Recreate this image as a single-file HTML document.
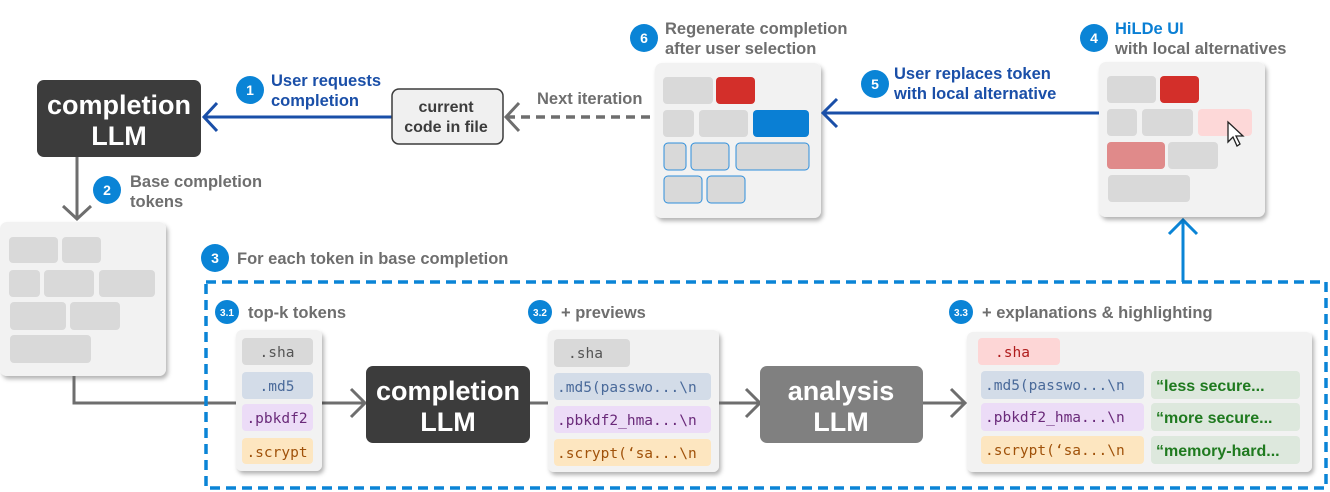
<!DOCTYPE html>
<html><head><meta charset="utf-8"><style>
html,body{margin:0;padding:0;background:#fff;}
svg{display:block;}
text{font-family:"Liberation Sans",Arial,sans-serif;font-weight:bold;}
.m{font-family:"DejaVu Sans Mono","Liberation Mono",monospace;font-weight:normal;font-size:14.5px;}
.g{fill:#6e6e6e;font-size:16.5px;}
.b{fill:#1a4fa8;font-size:16.5px;}
.bw{fill:#fff;font-size:14px;text-anchor:middle;}
.bs{fill:#fff;font-size:10px;text-anchor:middle;}
</style></head><body>
<svg width="1330" height="492" viewBox="0 0 1330 492" xmlns="http://www.w3.org/2000/svg">
<defs>
<filter id="sh" x="-10%" y="-10%" width="125%" height="125%"><feDropShadow dx="2" dy="3" stdDeviation="2" flood-color="#000" flood-opacity="0.3"/></filter>
</defs>

<rect x="37" y="80" width="164" height="77" rx="7" fill="#3c3c3c"/>
<text x="119" y="114" fill="#fff" font-size="27" text-anchor="middle">completion</text>
<text x="119" y="145" fill="#fff" font-size="27" text-anchor="middle">LLM</text>

<line x1="204" y1="117" x2="392" y2="117" stroke="#1a4fa8" stroke-width="3"/>
<polyline points="217,103 204,117 217,131" fill="none" stroke="#1a4fa8" stroke-width="3"/>
<circle cx="250" cy="90" r="14" fill="#0a84d6"/><text x="250" y="95" class="bw">1</text>
<text x="271" y="86" class="b">User requests</text>
<text x="271" y="106" class="b">completion</text>

<rect x="392" y="89" width="111" height="55" rx="7" fill="#f0f0f0" stroke="#3c3c3c" stroke-width="1.5"/>
<text x="446" y="112" fill="#3c3c3c" font-size="16" text-anchor="middle">current</text>
<text x="446" y="132" fill="#3c3c3c" font-size="16" text-anchor="middle">code in file</text>

<line x1="506" y1="117" x2="654" y2="117" stroke="#6e6e6e" stroke-width="3.5" stroke-dasharray="9,6"/>
<polyline points="519,103 506,117 519,131" fill="none" stroke="#6e6e6e" stroke-width="3"/>
<text x="537" y="104" class="g">Next iteration</text>

<line x1="77" y1="157" x2="77" y2="219" stroke="#6e6e6e" stroke-width="3"/>
<polyline points="63,206 77,219 91,206" fill="none" stroke="#6e6e6e" stroke-width="3"/>
<circle cx="107" cy="190" r="14" fill="#0a84d6"/><text x="107" y="195" class="bw">2</text>
<text x="130" y="187" class="g">Base completion</text>
<text x="130" y="207" class="g">tokens</text>

<rect x="0" y="222" width="166" height="154" rx="7" fill="#f2f2f2" filter="url(#sh)"/>
<g fill="#d9d9d9">
<rect x="9" y="237" width="49" height="26" rx="4"/><rect x="62" y="237" width="39" height="26" rx="4"/>
<rect x="9" y="270" width="31" height="27" rx="4"/><rect x="44" y="270" width="50" height="27" rx="4"/><rect x="99" y="270" width="56" height="27" rx="4"/>
<rect x="10" y="302" width="56" height="28" rx="4"/><rect x="70" y="302" width="50" height="28" rx="4"/>
<rect x="10" y="335" width="81" height="28" rx="4"/>
</g>

<polyline points="74,376 74,403 364,403" fill="none" stroke="#6e6e6e" stroke-width="3"/>
<polyline points="351,389 365,403 351,417" fill="none" stroke="#6e6e6e" stroke-width="3"/>

<circle cx="215" cy="258" r="14" fill="#0a84d6"/><text x="215" y="263" class="bw">3</text>
<text x="237" y="264" class="g">For each token in base completion</text>

<rect x="206" y="282" width="1120" height="206" fill="none" stroke="#0a84d6" stroke-width="3.5" stroke-dasharray="10,6"/>

<circle cx="227" cy="312" r="12" fill="#0a84d6"/><text x="227" y="316" class="bs">3.1</text>
<text x="248" y="318" class="g">top-k tokens</text>
<rect x="236" y="330" width="86" height="141" rx="6" fill="#f2f2f2" filter="url(#sh)"/>
<rect x="242" y="338" width="71" height="27" rx="4" fill="#d9d9d9"/><text x="277" y="357" class="m" fill="#555" text-anchor="middle">.sha</text>
<rect x="242" y="372" width="71" height="27" rx="4" fill="#d3dce8"/><text x="277" y="391" class="m" fill="#4a6a9a" text-anchor="middle">.md5</text>
<rect x="242" y="404" width="71" height="27" rx="4" fill="#ecdcf7"/><text x="277" y="423" class="m" fill="#6a2a7a" text-anchor="middle">.pbkdf2</text>
<rect x="242" y="438" width="71" height="26" rx="4" fill="#fde6c0"/><text x="277" y="457" class="m" fill="#a0520a" text-anchor="middle">.scrypt</text>

<rect x="366" y="366" width="164" height="77" rx="7" fill="#3c3c3c"/>
<text x="448" y="400" fill="#fff" font-size="27" text-anchor="middle">completion</text>
<text x="448" y="431" fill="#fff" font-size="27" text-anchor="middle">LLM</text>

<line x1="530" y1="403" x2="548" y2="403" stroke="#6e6e6e" stroke-width="3"/>

<circle cx="540" cy="312" r="12" fill="#0a84d6"/><text x="540" y="316" class="bs">3.2</text>
<text x="561" y="318" class="g">+ previews</text>
<rect x="548" y="330" width="171" height="142" rx="6" fill="#f2f2f2" filter="url(#sh)"/>
<rect x="554" y="339" width="76" height="28" rx="4" fill="#d9d9d9"/><text x="568" y="358" class="m" fill="#555">.sha</text>
<rect x="554" y="373" width="157" height="27" rx="4" fill="#d3dce8"/><text x="557" y="392" class="m" fill="#4a6a9a">.md5(passwo...\n</text>
<rect x="554" y="406" width="157" height="27" rx="4" fill="#ecdcf7"/><text x="557" y="425" class="m" fill="#6a2a7a">.pbkdf2_hma...\n</text>
<rect x="554" y="439" width="157" height="27" rx="4" fill="#fde6c0"/><text x="557" y="458" class="m" fill="#a0520a">.scrypt(‘sa...\n</text>

<line x1="719" y1="403" x2="759" y2="403" stroke="#6e6e6e" stroke-width="3"/>
<polyline points="746,389 760,403 746,417" fill="none" stroke="#6e6e6e" stroke-width="3"/>

<rect x="760" y="366" width="163" height="77" rx="7" fill="#808080"/>
<text x="841" y="400" fill="#fff" font-size="27" text-anchor="middle">analysis</text>
<text x="841" y="431" fill="#fff" font-size="27" text-anchor="middle">LLM</text>

<line x1="923" y1="403" x2="964" y2="403" stroke="#6e6e6e" stroke-width="3"/>
<polyline points="951,389 965,403 951,417" fill="none" stroke="#6e6e6e" stroke-width="3"/>

<circle cx="961" cy="312" r="12" fill="#0a84d6"/><text x="961" y="316" class="bs">3.3</text>
<text x="982" y="318" class="g">+ explanations &amp; highlighting</text>
<rect x="967" y="332" width="345" height="140" rx="6" fill="#f2f2f2" filter="url(#sh)"/>
<rect x="978" y="338" width="82" height="27" rx="4" fill="#fdd6d6"/><text x="995" y="357" class="m" fill="#b01c1c">.sha</text>
<rect x="981" y="371" width="163" height="28" rx="4" fill="#d3dce8"/><text x="985" y="390" class="m" fill="#4a6a9a">.md5(passwo...\n</text>
<rect x="981" y="403" width="163" height="28" rx="4" fill="#ecdcf7"/><text x="985" y="422" class="m" fill="#6a2a7a">.pbkdf2_hma...\n</text>
<rect x="981" y="436" width="163" height="28" rx="4" fill="#fde6c0"/><text x="985" y="455" class="m" fill="#a0520a">.scrypt(‘sa...\n</text>
<g fill="#dde8dd"><rect x="1151" y="371" width="149" height="28" rx="4"/><rect x="1151" y="403" width="149" height="28" rx="4"/><rect x="1151" y="436" width="149" height="28" rx="4"/></g>
<g fill="#1f7a1f" font-size="16"><text x="1156" y="391">“less secure...</text><text x="1156" y="423">“more secure...</text><text x="1156" y="456">“memory-hard...</text></g>

<line x1="1183" y1="282" x2="1183" y2="220" stroke="#0a84d6" stroke-width="3"/>
<polyline points="1169,234 1183,220 1197,234" fill="none" stroke="#0a84d6" stroke-width="3"/>

<circle cx="644" cy="38" r="14" fill="#0a84d6"/><text x="644" y="43" class="bw">6</text>
<text x="665" y="34" class="g">Regenerate completion</text>
<text x="665" y="54" class="g">after user selection</text>
<rect x="655" y="63" width="166" height="155" rx="7" fill="#f2f2f2" filter="url(#sh)"/>
<rect x="663" y="77" width="50" height="27" rx="4" fill="#d9d9d9"/><rect x="716" y="77" width="39" height="27" rx="4" fill="#d32f2a"/>
<rect x="663" y="110" width="31" height="27" rx="4" fill="#d9d9d9"/><rect x="699" y="110" width="49" height="27" rx="4" fill="#d9d9d9"/><rect x="753" y="110" width="56" height="27" rx="4" fill="#0a7fd4"/>
<g fill="#d9d9d9" stroke="#2e8fdc" stroke-width="1">
<rect x="664" y="143" width="22" height="27" rx="4"/><rect x="691" y="143" width="38" height="27" rx="4"/><rect x="736" y="143" width="73" height="27" rx="4"/>
<rect x="664" y="176" width="38" height="27" rx="4"/><rect x="707" y="176" width="38" height="27" rx="4"/>
</g>

<line x1="824" y1="113" x2="1099" y2="113" stroke="#1a4fa8" stroke-width="3"/>
<polyline points="837,99 823,113 837,127" fill="none" stroke="#1a4fa8" stroke-width="3"/>
<circle cx="875" cy="84" r="14" fill="#0a84d6"/><text x="875" y="89" class="bw">5</text>
<text x="894" y="79" class="b">User replaces token</text>
<text x="894" y="99" class="b">with local alternative</text>

<circle cx="1094" cy="38" r="14" fill="#0a84d6"/><text x="1094" y="43" class="bw">4</text>
<text x="1115" y="34" fill="#0a7fd4" font-size="16.5">HiLDe UI</text>
<text x="1115" y="54" class="g">with local alternatives</text>
<rect x="1099" y="62" width="166" height="155" rx="7" fill="#f2f2f2" filter="url(#sh)"/>
<rect x="1107" y="76" width="49" height="27" rx="4" fill="#d9d9d9"/><rect x="1160" y="76" width="39" height="27" rx="4" fill="#d32f2a"/>
<rect x="1107" y="109" width="30" height="27" rx="4" fill="#d9d9d9"/><rect x="1142" y="109" width="51" height="27" rx="4" fill="#d9d9d9"/><rect x="1198" y="109" width="54" height="27" rx="4" fill="#fdd8d8"/>
<rect x="1107" y="142" width="58" height="27" rx="4" fill="#e08a8a"/><rect x="1168" y="142" width="50" height="27" rx="4" fill="#d9d9d9"/>
<rect x="1108" y="175" width="82" height="27" rx="4" fill="#d9d9d9"/>
<path d="M1228,122 L1228,142 L1233,137 L1237,146 L1240,144 L1236,136 L1243,136 Z" fill="#fff" stroke="#222" stroke-width="1.3"/>
</svg>
</body></html>
